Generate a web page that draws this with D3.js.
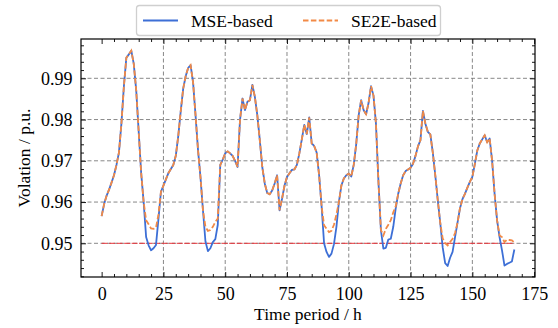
<!DOCTYPE html>
<html>
<head>
<meta charset="utf-8">
<script src="https://cdn.jsdelivr.net/npm/d3@7"></script>
<style>
  body { margin: 0; background: #fff; }
  text { font-family: "Liberation Serif", "Times New Roman", serif; fill: #000; }
</style>
</head>
<body>
<svg id="chart" width="558" height="328"></svg>
<script>
// hourly voltage, t = 0..167
const mseBased = [
  0.9566, 0.9595, 0.9615, 0.9630, 0.9647, 0.9665, 0.9690, 0.9720, 0.9790, 0.9880,
  0.9950, 0.9958, 0.9967, 0.9935, 0.9870, 0.9770, 0.9670, 0.9600, 0.9515, 0.9495,
  0.9483, 0.9488, 0.9496, 0.9560, 0.9625, 0.9640, 0.9655, 0.9670, 0.9680, 0.9690,
  0.9712, 0.9760, 0.9820, 0.9875, 0.9905, 0.9925, 0.9932, 0.9890, 0.9810, 0.9726,
  0.9660, 0.9580, 0.9505, 0.9481, 0.9488, 0.9503, 0.9510, 0.9545, 0.9690, 0.9703,
  0.9718, 0.9723, 0.9718, 0.9712, 0.9700, 0.9685, 0.9800, 0.9851, 0.9823, 0.9843,
  0.9847, 0.9884, 0.9855, 0.9810, 0.9750, 0.9685, 0.9645, 0.9622, 0.9619, 0.9628,
  0.9645, 0.9665, 0.9580, 0.9608, 0.9640, 0.9661, 0.9670, 0.9678, 0.9679, 0.9690,
  0.9718, 0.9752, 0.9787, 0.9765, 0.9805, 0.9742, 0.9736, 0.9720, 0.9665, 0.9590,
  0.9500, 0.9479, 0.9467, 0.9475, 0.9498, 0.9540, 0.9600, 0.9640, 0.9657, 0.9665,
  0.9669, 0.9662, 0.9690, 0.9740, 0.9810, 0.9847, 0.9823, 0.9813, 0.9840, 0.9881,
  0.9858, 0.9790, 0.9650, 0.9532, 0.9487, 0.9489, 0.9509, 0.9511, 0.9540, 0.9585,
  0.9620, 0.9645, 0.9665, 0.9675, 0.9679, 0.9683, 0.9693, 0.9712, 0.9735, 0.9750,
  0.9821, 0.9790, 0.9770, 0.9764, 0.9720, 0.9665, 0.9605, 0.9550, 0.9490, 0.9452,
  0.9445, 0.9465, 0.9479, 0.9515, 0.9550, 0.9585, 0.9607, 0.9620, 0.9635, 0.9649,
  0.9661, 0.9692, 0.9725, 0.9742, 0.9752, 0.9762, 0.9745, 0.9754, 0.9700, 0.9620,
  0.9556, 0.9515, 0.9483, 0.9446, 0.9450, 0.9453, 0.9456, 0.9485
];
const se2eBased = [
  0.9566, 0.9595, 0.9615, 0.9630, 0.9647, 0.9665, 0.9690, 0.9720, 0.9790, 0.9880,
  0.9950, 0.9958, 0.9967, 0.9935, 0.9870, 0.9770, 0.9670, 0.9600, 0.9556, 0.9546,
  0.9536, 0.9535, 0.9538, 0.9570, 0.9625, 0.9640, 0.9655, 0.9670, 0.9680, 0.9690,
  0.9712, 0.9760, 0.9820, 0.9875, 0.9905, 0.9925, 0.9932, 0.9890, 0.9810, 0.9726,
  0.9660, 0.9580, 0.9540, 0.9530, 0.9532, 0.9540, 0.9552, 0.9560, 0.9690, 0.9703,
  0.9718, 0.9723, 0.9718, 0.9712, 0.9700, 0.9685, 0.9800, 0.9851, 0.9823, 0.9843,
  0.9847, 0.9884, 0.9855, 0.9810, 0.9750, 0.9685, 0.9645, 0.9622, 0.9619, 0.9628,
  0.9645, 0.9665, 0.9580, 0.9608, 0.9640, 0.9661, 0.9670, 0.9678, 0.9679, 0.9690,
  0.9718, 0.9752, 0.9787, 0.9765, 0.9805, 0.9742, 0.9736, 0.9720, 0.9665, 0.9590,
  0.9544, 0.9535, 0.9527, 0.9530, 0.9545, 0.9570, 0.9600, 0.9640, 0.9657, 0.9665,
  0.9669, 0.9662, 0.9690, 0.9740, 0.9810, 0.9847, 0.9823, 0.9813, 0.9840, 0.9881,
  0.9858, 0.9790, 0.9650, 0.9532, 0.9519, 0.9535, 0.9545, 0.9556, 0.9575, 0.9590,
  0.9620, 0.9645, 0.9665, 0.9675, 0.9679, 0.9683, 0.9693, 0.9712, 0.9735, 0.9750,
  0.9821, 0.9790, 0.9770, 0.9764, 0.9720, 0.9665, 0.9605, 0.9550, 0.9512, 0.9500,
  0.9495, 0.9503, 0.9511, 0.9525, 0.9550, 0.9585, 0.9607, 0.9620, 0.9635, 0.9649,
  0.9661, 0.9692, 0.9725, 0.9742, 0.9752, 0.9762, 0.9745, 0.9754, 0.9700, 0.9620,
  0.9556, 0.9519, 0.9515, 0.9503, 0.9509, 0.9508, 0.9507, 0.9502
];
const seriesNames = ["MSE-based", "SE2E-based"];
const xTicks = [0, 25, 50, 75, 100, 125, 150, 175];
const yTicks = [0.95, 0.96, 0.97, 0.98, 0.99];
const limitValue = 0.95;

const svg = d3.select("#chart");
const plotL = 81, plotR = 535, plotT = 39, plotB = 277;
const serif = "'Liberation Serif', 'Times New Roman', serif";

const x = d3.scaleLinear().domain([-8.35, 175.35]).range([plotL, plotR]);
const y = d3.scaleLinear().domain([0.94183, 0.99953]).range([plotB, plotT]);

const blue = "#3d6fd6", orange = "#f28a46";

// grid
svg.append("g").selectAll("line")
  .data(xTicks.filter(d => d > 0 && d < 175))
  .join("line")
  .attr("x1", d => x(d)).attr("x2", d => x(d))
  .attr("y1", plotT).attr("y2", plotB)
  .attr("stroke", "#7a7a7a").attr("stroke-width", 0.9)
  .attr("stroke-dasharray", "4,2.5");
svg.append("g").selectAll("line")
  .data(yTicks)
  .join("line")
  .attr("x1", plotL).attr("x2", plotR)
  .attr("y1", d => y(d)).attr("y2", d => y(d))
  .attr("stroke", "#7a7a7a").attr("stroke-width", 0.9)
  .attr("stroke-dasharray", "4,2.5");

// 0.95 limit
svg.append("line")
  .attr("x1", x(0)).attr("x2", x(mseBased.length - 1))
  .attr("y1", y(limitValue)).attr("y2", y(limitValue))
  .attr("stroke", "#e8343a").attr("stroke-width", 1)
  .attr("stroke-dasharray", "6,1.5");

const line = d3.line()
  .x((d, i) => x(i))
  .y(d => y(d));

svg.append("path")
  .attr("d", line(mseBased))
  .attr("fill", "none").attr("stroke", blue).attr("stroke-width", 1.8)
  .attr("stroke-linejoin", "round");
svg.append("path")
  .attr("d", line(se2eBased))
  .attr("fill", "none").attr("stroke", orange).attr("stroke-width", 1.8)
  .attr("stroke-dasharray", "5.5,2.4");

// axes, inward ticks on all four sides
const tickStyle = g => {
  g.select(".domain").remove();
  g.attr("font-family", serif);
  g.selectAll("line").attr("stroke", "#000").attr("stroke-width", 0.9);
};
const xMinor = d3.range(0, 176, 5).filter(d => !xTicks.includes(d));
const yMinor = d3.range(0.942, 0.9995, 0.002).filter(d => !yTicks.some(t => Math.abs(t - d) < 1e-6));

svg.append("g").attr("transform", `translate(0,${plotB})`)
  .call(d3.axisBottom(x).tickValues(xTicks).tickSizeInner(-5).tickSizeOuter(0).tickPadding(10))
  .call(tickStyle)
  .call(g => g.selectAll("text").style("font-size", "18px"));
svg.append("g").attr("transform", `translate(0,${plotB})`)
  .call(d3.axisBottom(x).tickValues(xMinor).tickSizeInner(-3).tickSizeOuter(0).tickFormat(""))
  .call(tickStyle);
svg.append("g").attr("transform", `translate(0,${plotT})`)
  .call(d3.axisTop(x).tickValues(xTicks).tickSizeInner(-5).tickSizeOuter(0).tickFormat(""))
  .call(tickStyle);
svg.append("g").attr("transform", `translate(0,${plotT})`)
  .call(d3.axisTop(x).tickValues(xMinor).tickSizeInner(-3).tickSizeOuter(0).tickFormat(""))
  .call(tickStyle);

svg.append("g").attr("transform", `translate(${plotL},0)`)
  .call(d3.axisLeft(y).tickValues(yTicks).tickSizeInner(-5).tickSizeOuter(0).tickPadding(8.5).tickFormat(d3.format(".2f")))
  .call(tickStyle)
  .call(g => g.selectAll("text").style("font-size", "18px"));
svg.append("g").attr("transform", `translate(${plotL},0)`)
  .call(d3.axisLeft(y).tickValues(yMinor).tickSizeInner(-3).tickSizeOuter(0).tickFormat(""))
  .call(tickStyle);
svg.append("g").attr("transform", `translate(${plotR},0)`)
  .call(d3.axisRight(y).tickValues(yTicks).tickSizeInner(-5).tickSizeOuter(0).tickFormat(""))
  .call(tickStyle);
svg.append("g").attr("transform", `translate(${plotR},0)`)
  .call(d3.axisRight(y).tickValues(yMinor).tickSizeInner(-3).tickSizeOuter(0).tickFormat(""))
  .call(tickStyle);

svg.append("rect")
  .attr("x", plotL).attr("y", plotT)
  .attr("width", plotR - plotL).attr("height", plotB - plotT)
  .attr("fill", "none").attr("stroke", "#000").attr("stroke-width", 1.2);

// labels
svg.append("text")
  .attr("x", (plotL + plotR) / 2).attr("y", 320)
  .attr("text-anchor", "middle").style("font-size", "17.5px")
  .text("Time period / h");
svg.append("text")
  .attr("transform", `translate(30,${(plotT + plotB) / 2}) rotate(-90)`)
  .attr("text-anchor", "middle").style("font-size", "17.5px")
  .text("Volation / p.u.");

// legend
const legend = svg.append("g");
legend.append("rect")
  .attr("x", 136.5).attr("y", 5.5).attr("width", 304).attr("height", 30)
  .attr("rx", 3).attr("fill", "#fff")
  .attr("stroke", "#cfcfcf").attr("stroke-width", 1.3);
const legendItems = [
  { name: seriesNames[0], color: blue, dash: null, x0: 143 },
  { name: seriesNames[1], color: orange, dash: "5.5,2.4", x0: 303 }
];
legendItems.forEach(d => {
  legend.append("line")
    .attr("x1", d.x0).attr("x2", d.x0 + 35)
    .attr("y1", 20.5).attr("y2", 20.5)
    .attr("stroke", d.color).attr("stroke-width", 1.8)
    .attr("stroke-dasharray", d.dash);
  legend.append("text")
    .attr("x", d.x0 + 48).attr("y", 26.5)
    .style("font-size", "17.5px")
    .text(d.name);
});
</script>
</body>
</html>
